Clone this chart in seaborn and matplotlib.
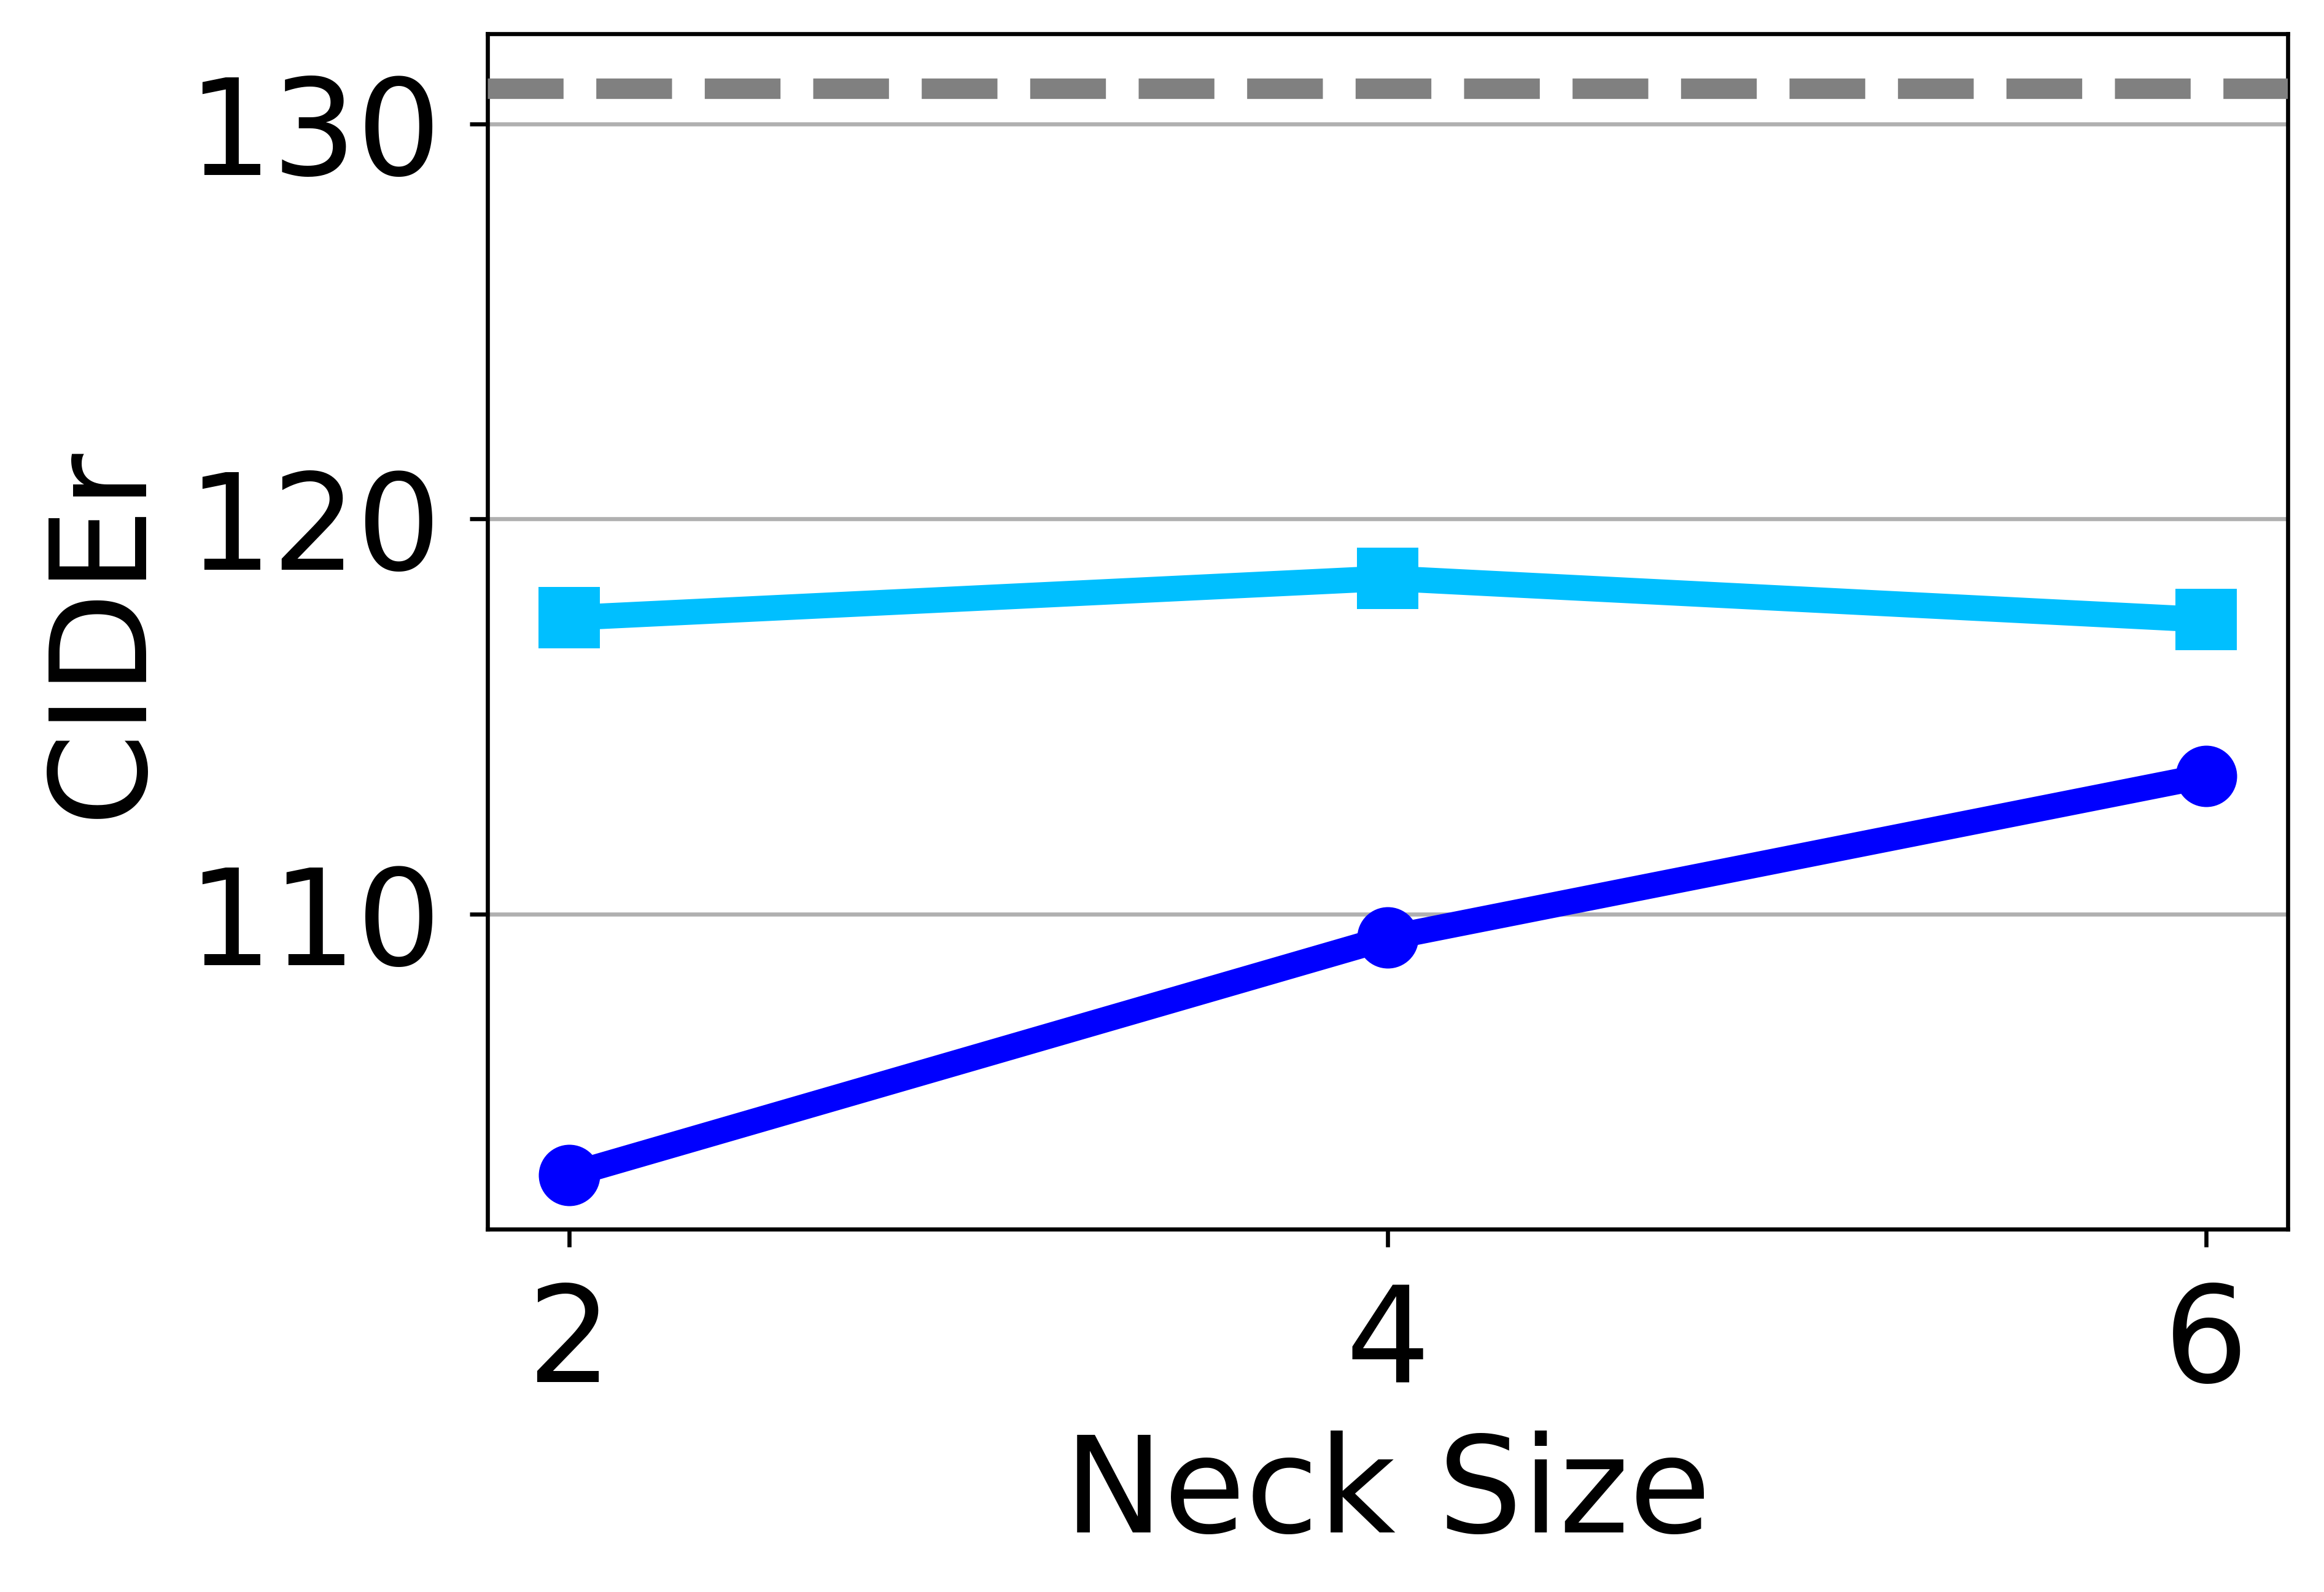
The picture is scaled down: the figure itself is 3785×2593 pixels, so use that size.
import pandas as pd
import matplotlib
matplotlib.use("Agg")
import matplotlib.pyplot as plt
import seaborn as sns

# values
neck_size = [2, 4, 6]
cider_cyan = [117.5, 118.5, 117.45]
cider_blue = [103.4, 109.4, 113.5]
baseline = 130.9
y_ticks = [110, 120, 130]

plt.rcParams["font.family"] = ["DejaVu Sans"]

fig, ax = plt.subplots(figsize=(3786 / 600, 2593 / 600), dpi=600)
fig.subplots_adjust(left=0.2097, right=0.9842, top=0.9786, bottom=0.2279)

df = pd.DataFrame({"Neck Size": neck_size, "cyan": cider_cyan, "blue": cider_blue})

ax.axhline(baseline, color="gray", linestyle="--", linewidth=4, zorder=3)
sns.lineplot(data=df, x="Neck Size", y="cyan", ax=ax, color="#00bfff",
             linewidth=5, marker="s", markersize=12,
             markeredgecolor="#00bfff", markeredgewidth=0, zorder=4)
sns.lineplot(data=df, x="Neck Size", y="blue", ax=ax, color="#0000ff",
             linewidth=5, marker="o", markersize=12,
             markeredgecolor="#0000ff", markeredgewidth=0, zorder=4)

ax.set_xticks(neck_size)
ax.set_yticks(y_ticks)
ax.tick_params(axis="x", labelsize=26, pad=6.5)
ax.tick_params(axis="y", labelsize=26, pad=5.5)
ax.yaxis.grid(True, color="#b0b0b0", linewidth=0.8)
ax.set_axisbelow(True)
ax.set_xlabel("Neck Size", fontsize=26)
ax.set_ylabel("CIDEr", fontsize=26)

fig.savefig("out.png", dpi=600)
